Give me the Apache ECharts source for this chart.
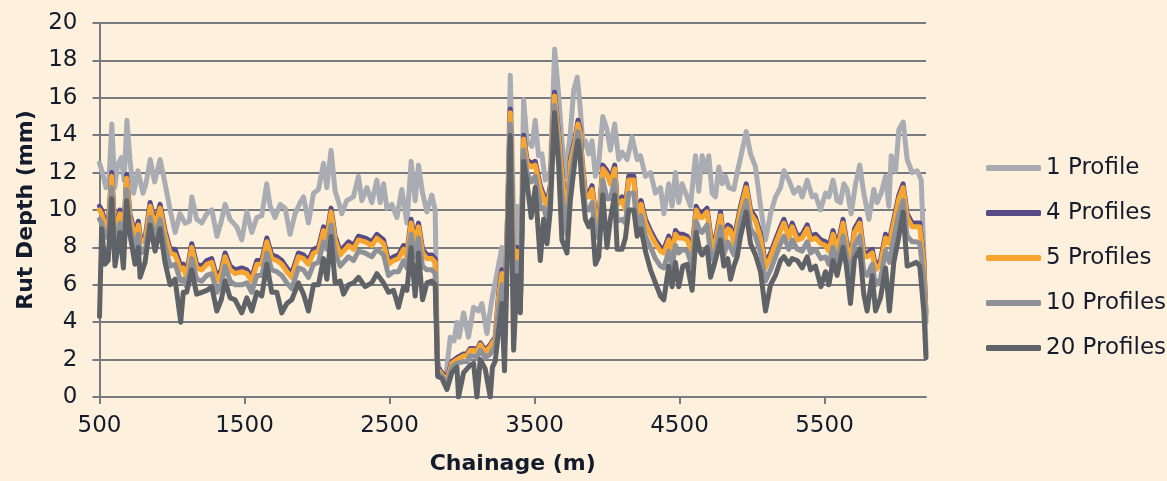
<!DOCTYPE html>
<html>
<head>
<meta charset="utf-8">
<script src="https://cdn.jsdelivr.net/npm/echarts@6/dist/echarts.min.js"></script>
<style>
  html, body { margin: 0; padding: 0; background: #FDF0DC; }
  #chart { width: 1167px; height: 481px; }
</style>
</head>
<body>
<div id="chart"></div>
<script>
// Rut depth along the road, for different numbers of averaged transverse profiles.

const seriesNames = ['1 Profile', '4 Profiles', '5 Profiles', '10 Profiles', '20 Profiles'];
const xTickValues = [500, 1500, 2500, 3500, 4500, 5500];

// Single-profile survey (m, mm)
const profile1Chainage = [
  500, 520, 545, 565, 585, 605, 625, 650, 670, 689,
  710, 735, 765, 800, 820, 850, 880, 918, 950, 987,
  1022, 1055, 1090, 1120, 1137, 1170, 1205, 1240, 1275, 1310,
  1340, 1366, 1400, 1447, 1481, 1516, 1550, 1585, 1619, 1653,
  1677, 1711, 1746, 1780, 1814, 1849, 1884, 1907, 1941, 1976,
  2010, 2045, 2068, 2097, 2125, 2150, 2171, 2205, 2251, 2286,
  2309, 2344, 2378, 2413, 2436, 2459, 2482, 2516, 2551, 2585,
  2620, 2649, 2677, 2700, 2728, 2758, 2792, 2815, 2830, 2850,
  2884, 2919, 2945, 2965, 2980, 3011, 3045, 3080, 3114, 3137,
  3172, 3206, 3241, 3275, 3298, 3333, 3356, 3379, 3402, 3425,
  3448, 3482, 3505, 3528, 3551, 3574, 3609, 3639, 3666, 3689,
  3712, 3747, 3770, 3795, 3815, 3835, 3851, 3874, 3897, 3920,
  3943, 3971, 4000, 4023, 4053, 4081, 4104, 4139, 4173, 4208,
  4231, 4265, 4300, 4334, 4369, 4392, 4426, 4449, 4472, 4495,
  4518, 4553, 4576, 4610, 4633, 4656, 4679, 4702, 4725, 4748,
  4771, 4794, 4817, 4840, 4875, 4898, 4927, 4960, 4990, 5024,
  5059, 5093, 5128, 5162, 5197, 5220, 5254, 5289, 5323, 5346,
  5381, 5415, 5438, 5472, 5507, 5530, 5559, 5587, 5610, 5633,
  5656, 5684, 5714, 5743, 5771, 5806, 5840, 5863, 5891, 5921,
  5944, 5960, 5990, 6013, 6043, 6070, 6105, 6139, 6167, 6185,
  6200
];
const profile1 = [
  12.5, 12.0, 11.2, 11.6, 14.6, 11.2, 12.4, 12.8, 11.6, 14.8,
  12.7, 10.9, 12.1, 10.9, 11.4, 12.7, 11.5, 12.7, 11.5, 10.0,
  8.8, 9.8, 9.3, 9.4, 10.7, 9.5, 9.3, 9.8, 10.0, 8.6,
  9.4, 10.3, 9.5, 9.1, 8.4, 9.9, 8.8, 9.6, 9.7, 11.4,
  10.2, 9.6, 10.3, 10.1, 8.7, 9.8, 10.4, 10.7, 9.3, 10.9,
  11.1, 12.5, 11.2, 13.2, 11.0, 10.4, 9.8, 10.5, 10.7, 11.8,
  10.5, 11.2, 10.4, 11.6, 10.4, 11.4, 10.1, 10.3, 9.6, 11.1,
  9.3, 12.6, 10.5, 12.4, 10.9, 9.9, 10.8, 10.0, 2.0, 1.4,
  0.8, 3.2, 3.0, 4.0, 3.2, 4.5, 3.2, 4.8, 4.6, 5.0,
  3.4, 5.2, 6.6, 8.0, 3.2, 17.2, 9.5, 10.2, 5.9, 15.9,
  13.7, 13.4, 14.8, 12.9, 13.0, 11.6, 12.0, 18.6, 16.2, 13.7,
  11.8, 14.1, 16.4, 17.1, 15.5, 13.4, 13.7, 13.0, 13.7, 11.8,
  12.5, 15.0, 14.3, 13.2, 14.6, 12.7, 13.1, 12.7, 13.9, 12.7,
  12.9, 11.8, 12.0, 10.9, 11.2, 9.8, 11.4, 10.2, 12.0, 10.4,
  11.4, 10.7, 10.2, 12.9, 11.0, 12.9, 12.1, 12.9, 10.9, 10.7,
  12.3, 11.4, 11.8, 11.2, 11.1, 12.0, 13.0, 14.2, 13.0, 12.3,
  10.2, 8.4, 9.8, 10.7, 11.2, 12.1, 11.6, 10.9, 11.2, 10.7,
  11.6, 10.7, 10.8, 10.0, 10.9, 10.7, 11.6, 10.5, 10.4, 11.4,
  11.1, 9.8, 11.4, 12.4, 10.9, 9.5, 11.1, 10.4, 10.9, 11.8,
  10.2, 12.9, 12.1, 14.3, 14.7, 12.7, 12.0, 12.1, 11.6, 7.7,
  2.3
];

// Averaged surveys share one chainage list (m)
const averagedChainage = [
  500, 515, 538, 560, 584, 607, 641, 665, 687, 710,
  745, 768, 780, 814, 849, 883, 918, 952, 987, 1021,
  1060, 1078, 1101, 1136, 1170, 1205, 1240, 1274, 1309, 1340,
  1366, 1401, 1435, 1481, 1516, 1550, 1585, 1619, 1654, 1688,
  1723, 1757, 1792, 1826, 1872, 1907, 1941, 1976, 2010, 2045,
  2068, 2097, 2125, 2160, 2183, 2217, 2252, 2286, 2332, 2378,
  2413, 2459, 2493, 2528, 2562, 2597, 2620, 2649, 2677, 2700,
  2728, 2758, 2792, 2815, 2832, 2861, 2896, 2930, 2965, 2976,
  3011, 3034, 3057, 3080, 3103, 3126, 3160, 3195, 3210, 3229,
  3252, 3275, 3293, 3333, 3356, 3379, 3402, 3425, 3448, 3477,
  3505, 3540, 3563, 3586, 3609, 3638, 3666, 3689, 3724, 3747,
  3781, 3800, 3815, 3828, 3851, 3874, 3897, 3920, 3943, 3971,
  4000, 4023, 4053, 4070, 4104, 4127, 4150, 4185, 4208, 4235,
  4265, 4300, 4334, 4369, 4392, 4426, 4449, 4472, 4495, 4523,
  4553, 4587, 4615, 4640, 4656, 4690, 4714, 4737, 4783, 4806,
  4833, 4852, 4875, 4898, 4921, 4960, 4990, 5024, 5059, 5093,
  5128, 5162, 5197, 5220, 5254, 5277, 5312, 5346, 5381, 5404,
  5438, 5475, 5507, 5530, 5559, 5587, 5628, 5651, 5679, 5707,
  5743, 5771, 5794, 5829, 5852, 5886, 5921, 5948, 5978, 6013,
  6042, 6070, 6105, 6134, 6157, 6185, 6200
];
const profiles4 = [
  10.2, 10.0, 9.4, 9.2, 12.0, 8.8, 10.0, 8.5, 11.9, 9.8,
  8.7, 9.4, 8.6, 8.5, 10.4, 9.3, 10.3, 8.9, 7.9, 7.9,
  7.0, 7.1, 6.6, 8.2, 7.1, 7.0, 7.3, 7.4, 6.4, 6.8,
  7.7, 7.0, 6.8, 6.9, 6.8, 6.4, 7.3, 7.3, 8.5, 7.6,
  7.5, 7.3, 6.9, 6.6, 7.7, 7.6, 7.3, 7.9, 8.0, 9.1,
  8.7, 10.1, 8.6, 7.8, 8.0, 8.3, 8.1, 8.6, 8.5, 8.3,
  8.7, 8.4, 7.3, 7.5, 7.6, 8.1, 7.7, 9.5, 8.4, 9.3,
  7.9, 7.6, 7.6, 7.4, 1.6, 1.3, 1.0, 1.9, 2.1, 2.1,
  2.3, 2.3, 2.6, 2.6, 2.5, 2.9, 2.5, 2.8, 3.0, 3.2,
  5.5, 6.8, 3.5, 15.4, 7.0, 8.0, 4.8, 14.0, 12.7, 12.5,
  12.6, 11.3, 10.8, 10.4, 11.3, 16.3, 14.1, 12.1, 9.6, 12.7,
  13.9, 14.8, 14.3, 12.7, 10.9, 10.9, 11.3, 9.8, 9.5, 12.4,
  12.1, 11.6, 12.4, 10.5, 10.7, 10.2, 11.8, 11.8, 9.8, 10.5,
  9.5, 8.9, 8.4, 8.0, 7.9, 8.6, 7.9, 8.9, 8.7, 8.7,
  8.6, 7.9, 10.2, 9.8, 9.8, 10.1, 8.7, 8.0, 9.9, 8.4,
  9.2, 9.1, 8.4, 9.3, 10.2, 11.4, 10.0, 9.6, 8.7, 7.1,
  7.7, 8.4, 9.1, 9.5, 8.7, 9.3, 8.6, 8.7, 9.2, 8.6,
  8.7, 8.4, 8.3, 8.0, 8.9, 8.0, 9.5, 8.4, 7.3, 9.0,
  9.5, 7.7, 7.7, 7.9, 7.0, 7.3, 8.7, 8.4, 9.5, 10.8,
  11.4, 9.8, 9.3, 9.3, 9.3, 7.3, 4.5
];
const profiles5 = [
  10.0, 9.8, 9.2, 9.0, 11.8, 8.6, 9.8, 8.3, 11.7, 9.6,
  8.5, 9.2, 8.4, 8.3, 10.2, 9.1, 10.1, 8.7, 7.7, 7.6,
  6.8, 6.9, 6.4, 8.0, 6.9, 6.8, 7.1, 7.2, 6.2, 6.6,
  7.5, 6.8, 6.6, 6.7, 6.6, 6.2, 7.1, 7.1, 8.3, 7.4,
  7.3, 7.1, 6.7, 6.4, 7.5, 7.4, 7.1, 7.7, 7.8, 8.9,
  8.5, 9.9, 8.4, 7.6, 7.8, 8.1, 7.9, 8.4, 8.3, 8.1,
  8.5, 8.2, 7.1, 7.3, 7.4, 7.9, 7.5, 9.3, 8.2, 9.1,
  7.7, 7.4, 7.4, 7.2, 1.5, 1.2, 0.9, 1.8, 2.0, 2.0,
  2.2, 2.2, 2.5, 2.5, 2.4, 2.8, 2.4, 2.7, 2.9, 3.1,
  5.3, 6.6, 3.4, 15.2, 6.8, 7.8, 4.7, 13.8, 12.5, 12.3,
  12.4, 11.1, 10.6, 10.2, 11.1, 16.1, 13.9, 11.9, 9.4, 12.5,
  13.7, 14.6, 14.1, 12.5, 10.7, 10.7, 11.1, 9.6, 9.3, 12.2,
  11.9, 11.4, 12.2, 10.3, 10.5, 10.0, 11.6, 11.6, 9.6, 10.3,
  9.3, 8.7, 8.2, 7.8, 7.7, 8.4, 7.7, 8.7, 8.5, 8.5,
  8.4, 7.7, 10.0, 9.6, 9.6, 9.9, 8.5, 7.8, 9.7, 8.2,
  9.0, 8.9, 8.2, 9.1, 10.0, 11.2, 9.8, 9.4, 8.5, 6.9,
  7.5, 8.2, 8.9, 9.3, 8.5, 9.1, 8.4, 8.5, 9.0, 8.4,
  8.5, 8.2, 8.1, 7.8, 8.7, 7.8, 9.3, 8.2, 7.1, 8.8,
  9.3, 7.5, 7.5, 7.7, 6.8, 7.1, 8.5, 8.2, 9.3, 10.6,
  11.2, 9.6, 9.1, 9.1, 9.1, 7.1, 4.3
];
const profiles10 = [
  9.5, 9.3, 8.6, 8.5, 11.2, 8.0, 9.3, 7.8, 11.1, 9.1,
  7.9, 8.7, 7.7, 7.8, 9.6, 8.5, 9.5, 8.1, 7.0, 7.1,
  6.2, 6.3, 5.9, 7.4, 6.3, 6.2, 6.5, 6.6, 5.6, 6.0,
  7.0, 6.2, 6.0, 6.0, 6.1, 5.6, 6.5, 6.5, 7.7, 6.8,
  6.7, 6.5, 6.1, 5.8, 6.9, 6.8, 6.4, 7.1, 7.2, 8.3,
  7.9, 9.2, 7.7, 7.0, 7.2, 7.5, 7.3, 7.8, 7.7, 7.5,
  7.9, 7.6, 6.5, 6.7, 6.7, 7.3, 6.9, 8.7, 7.5, 8.5,
  7.0, 6.8, 6.8, 6.6, 1.3, 1.1, 0.7, 1.6, 1.8, 1.7,
  1.9, 1.9, 2.2, 2.2, 2.1, 2.5, 2.1, 2.3, 2.5, 2.7,
  4.7, 6.0, 2.8, 14.6, 5.5, 7.2, 4.6, 13.2, 12.0, 11.5,
  11.8, 10.2, 10.1, 9.5, 10.6, 15.6, 13.2, 10.8, 8.7, 11.7,
  13.3, 14.2, 13.5, 11.9, 10.1, 10.0, 10.4, 8.7, 8.5, 11.6,
  10.6, 10.6, 11.6, 9.4, 9.5, 9.3, 10.9, 10.9, 9.1, 9.7,
  8.6, 8.0, 7.4, 7.0, 6.9, 7.8, 7.0, 8.1, 7.7, 7.9,
  7.8, 7.0, 9.4, 8.9, 8.8, 9.2, 7.7, 7.3, 9.1, 7.6,
  8.3, 8.0, 7.6, 8.4, 9.4, 10.5, 9.0, 8.6, 7.7, 6.2,
  6.8, 7.5, 8.2, 8.6, 7.9, 8.4, 7.9, 7.8, 8.3, 7.7,
  7.9, 7.4, 7.5, 7.1, 8.0, 7.2, 8.6, 7.6, 6.3, 8.1,
  8.6, 6.7, 6.5, 7.1, 6.0, 6.3, 7.8, 7.2, 8.5, 9.8,
  10.5, 8.6, 8.3, 8.3, 8.2, 6.3, 4.0
];
const profiles20 = [
  4.3, 9.0, 7.1, 7.3, 10.6, 7.0, 8.8, 6.9, 10.5, 8.7,
  7.1, 8.0, 6.4, 7.2, 9.2, 7.8, 9.0, 7.2, 6.0, 6.3,
  4.0, 5.6, 5.6, 6.8, 5.5, 5.6, 5.7, 5.9, 4.6, 5.2,
  6.2, 5.3, 5.2, 4.5, 5.3, 4.6, 5.6, 5.4, 7.1, 5.6,
  5.6, 4.5, 5.0, 5.2, 6.1, 5.5, 4.6, 6.0, 6.0, 7.4,
  6.3, 8.6, 6.1, 6.2, 5.5, 6.0, 6.1, 6.4, 5.9, 6.1,
  6.6, 6.1, 5.6, 5.7, 4.8, 5.9, 5.7, 8.0, 5.4, 7.7,
  5.2, 6.1, 6.2, 6.0, 1.1, 1.0, 0.4, 1.3, 1.6, 0.0,
  1.3, 1.5, 1.7, 1.8, 0.0, 2.0, 1.5, 0.0, 1.6, 1.9,
  3.5, 5.0, 1.4, 14.0, 2.5, 6.5, 4.5, 12.6, 11.5, 9.6,
  11.2, 7.3, 9.5, 8.2, 10.0, 15.2, 12.5, 8.4, 7.7, 10.5,
  12.8, 13.7, 12.8, 11.3, 9.5, 9.1, 9.5, 7.1, 7.5, 10.8,
  8.0, 9.5, 10.8, 7.9, 7.9, 8.5, 10.0, 10.0, 8.6, 9.0,
  7.8, 6.8, 6.1, 5.4, 5.2, 7.0, 5.9, 7.2, 5.9, 7.0,
  7.1, 5.7, 8.8, 7.8, 7.6, 8.0, 6.4, 7.0, 8.4, 7.0,
  7.4, 6.3, 7.0, 7.5, 8.6, 9.9, 8.2, 7.6, 6.7, 4.6,
  6.0, 6.5, 7.3, 7.5, 7.1, 7.4, 7.3, 6.9, 7.5, 6.8,
  7.0, 5.9, 6.7, 6.0, 7.3, 6.5, 8.0, 7.0, 5.0, 7.4,
  7.9, 5.5, 4.6, 6.5, 4.6, 5.3, 6.9, 4.6, 7.2, 8.6,
  9.9, 7.0, 7.1, 7.2, 7.0, 4.6, 2.1
];

const lineColors = ['#A9ACB2', '#574A87', '#F6A530', '#8E9298', '#5F6368'];
const textColor = '#141B2D';
const ruleColor = '#777A80';
const fontFamily = 'DejaVu Sans';

function pairs(xs, ys) {
  return xs.map((x, i) => [x, ys[i]]);
}

const seriesData = [
  pairs(profile1Chainage, profile1),
  pairs(averagedChainage, profiles4),
  pairs(averagedChainage, profiles5),
  pairs(averagedChainage, profiles10),
  pairs(averagedChainage, profiles20)
];

const chart = echarts.init(document.getElementById('chart'), null, { renderer: 'canvas' });

chart.setOption({
  backgroundColor: '#FDF0DC',
  animation: false,
  grid: { left: 99.5, right: 241, top: 23, bottom: 84, containLabel: false },
  legend: {
    orient: 'vertical',
    left: 981,
    top: 151,
    itemWidth: 55,
    itemHeight: 6,
    itemGap: 21,
    icon: 'roundRect',
    selectedMode: false,
    data: seriesNames,
    textStyle: { fontFamily: fontFamily, fontSize: 23, color: textColor, lineHeight: 24 }
  },
  xAxis: {
    type: 'value',
    min: 500,
    max: 6200,
    interval: 1000,
    axisLine: { show: true, lineStyle: { color: ruleColor, width: 2 } },
    axisTick: { show: true, length: 7, lineStyle: { color: ruleColor, width: 2 }, customValues: xTickValues },
    axisLabel: {
      customValues: xTickValues,
      formatter: (v) => String(v),
      color: textColor, fontFamily: fontFamily, fontSize: 23, margin: 18
    },
    splitLine: { show: false },
    name: 'Chainage (m)',
    nameLocation: 'middle',
    nameGap: 56,
    nameTextStyle: { fontFamily: fontFamily, fontSize: 22, fontWeight: 'bold', color: textColor }
  },
  yAxis: {
    type: 'value',
    min: 0,
    max: 20,
    interval: 2,
    axisLine: { show: true, lineStyle: { color: ruleColor, width: 2 } },
    axisTick: { show: true, length: 7, lineStyle: { color: ruleColor, width: 2 } },
    axisLabel: { formatter: (v) => String(v), color: textColor, fontFamily: fontFamily, fontSize: 23, margin: 22 },
    splitLine: { show: true, lineStyle: { color: ruleColor, width: 2 } },
    name: 'Rut Depth (mm)',
    nameLocation: 'middle',
    nameGap: 62,
    nameTextStyle: { fontFamily: fontFamily, fontSize: 22, fontWeight: 'bold', color: textColor }
  },
  series: seriesNames.map((name, i) => ({
    name: name,
    type: 'line',
    data: seriesData[i],
    showSymbol: false,
    symbol: 'none',
    silent: true,
    color: lineColors[i],
    lineStyle: { color: lineColors[i], width: 5, cap: 'round', join: 'round' },
    emphasis: { disabled: true }
  }))
});
</script>
</body>
</html>
